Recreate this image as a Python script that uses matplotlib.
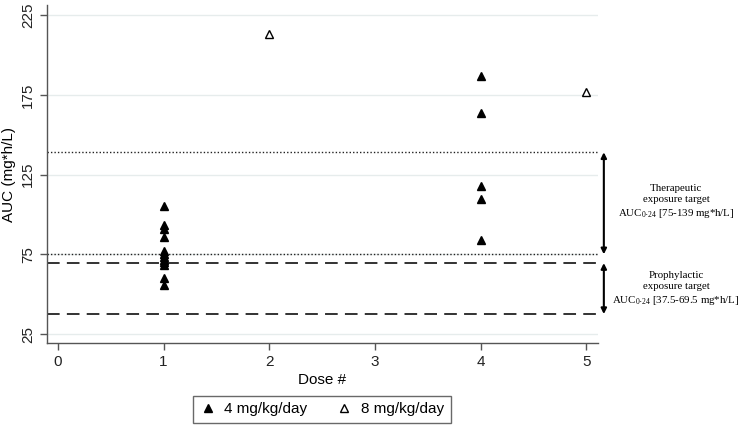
import matplotlib
matplotlib.use("Agg")
import matplotlib.pyplot as plt

# Data
dose_4mg = [1]*12 + [4]*5
auc_4mg = [105.5, 93.5, 91.0, 86.0, 77.0, 75.0, 73.0, 71.5, 70.0, 68.5, 60.3, 55.7,
           187.0, 163.7, 117.8, 109.4, 83.7]
dose_8mg = [2, 5]
auc_8mg = [212.9, 176.9]

y_ticks = [25, 75, 125, 175, 225]
x_ticks = [0, 1, 2, 3, 4, 5]
ther_range = [75, 139]
proph_range = [37.5, 69.5]
ther_text = "Therapeutic\nexposure target\nAUC$_{0\\text{-}24}$ [75-139 mg*h/L]"
proph_text = "Prophylactic\nexposure target\nAUC$_{0\\text{-}24}$ [37.5-69.5 mg*h/L]"

plt.rcParams['font.family'] = ['Liberation Sans', 'DejaVu Sans']
plt.rcParams['mathtext.fontset'] = 'custom'
plt.rcParams['mathtext.rm'] = 'Liberation Serif'

fig = plt.figure(figsize=(7.4, 4.28), dpi=100)
ax = fig.add_axes([0.0631, 0.198, 0.808 - 0.0631, 0.988 - 0.198])

ax.set_xlim(-0.106, 5.11)
ax.set_ylim(19.2, 231.3)

for yv in y_ticks:
    ax.axhline(yv, color='#e6ecec', lw=1.0, zorder=0)

for yv in ther_range:
    ax.axhline(yv, color='#222222', lw=1.0, ls=(0, (1, 1.5)), zorder=1)
for yv in proph_range:
    ax.axhline(yv, color='#222222', lw=1.3, ls=(0, (7, 4)), zorder=1)

ax.plot(dose_4mg, auc_4mg, ls='none', marker='^', color='black', ms=6,
        label='4 mg/kg/day', zorder=3)
ax.plot(dose_8mg, auc_8mg, ls='none', marker='^', mfc='white', mec='black',
        mew=1.0, ms=6, label='8 mg/kg/day', zorder=3)

ax.set_xticks(x_ticks)
ax.set_yticks(y_ticks)
ax.set_yticklabels([str(v) for v in y_ticks], rotation=90, va='center')
ax.tick_params(axis='both', labelsize=11, color='#555555', length=5, width=1,
               labelcolor='#222222')
for s in ['top', 'right']:
    ax.spines[s].set_visible(False)
for s in ['left', 'bottom']:
    ax.spines[s].set_color('#555555')
    ax.spines[s].set_linewidth(1.0)

ax.set_xlabel('Dose #', fontsize=11, labelpad=3)
ax.set_ylabel('AUC (mg*h/L)', fontsize=11)
ax.yaxis.set_label_coords(-0.056, 0.5)

# Double-headed arrows outside the plot area
ax.annotate('', xy=(5.166, ther_range[0]), xytext=(5.166, ther_range[1]),
            arrowprops=dict(arrowstyle='<|-|>', color='black', lw=1.5,
                            mutation_scale=8, shrinkA=0, shrinkB=0),
            annotation_clip=False)
ax.annotate('', xy=(5.166, proph_range[0]), xytext=(5.166, proph_range[1]),
            arrowprops=dict(arrowstyle='<|-|>', color='black', lw=1.5,
                            mutation_scale=8, shrinkA=0, shrinkB=0),
            annotation_clip=False)

fig.text(676 / 740, 1 - 202 / 428, ther_text, ha='center', va='center',
         fontsize=7.8, family='Liberation Serif', linespacing=1.35)
fig.text(676 / 740, 1 - 289 / 428, proph_text, ha='center', va='center',
         fontsize=7.8, family='Liberation Serif', linespacing=1.35)

leg = fig.legend(loc='center', bbox_to_anchor=(322 / 740, 1 - 409.5 / 428), ncol=2,
                 frameon=True, fancybox=False, edgecolor='#444444', fontsize=11,
                 handlelength=1.0, handletextpad=0.6, columnspacing=1.9,
                 borderpad=0.45, markerscale=0.9)
leg.get_frame().set_linewidth(1.0)

fig.savefig('out.png', dpi=100)
